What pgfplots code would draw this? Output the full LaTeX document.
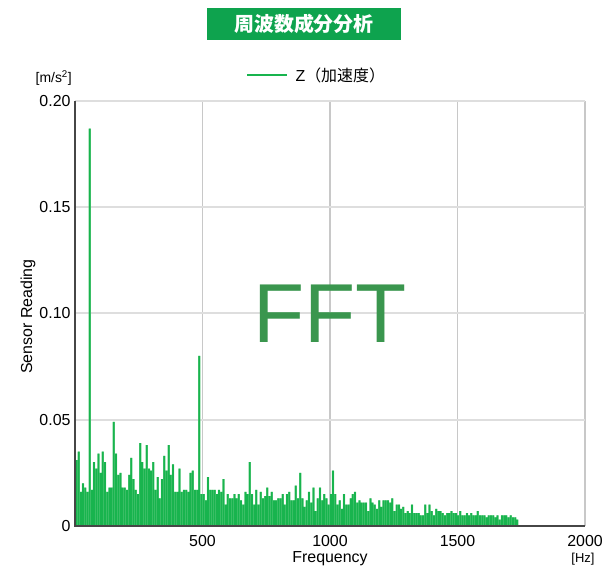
\documentclass[border=0pt]{standalone}
\usepackage{pgfplots}
\pgfplotsset{compat=1.18}
\usepackage{pgfplotstable}
\usepackage{fontspec}
\setmainfont{Liberation Sans}
\newfontfamily\cjk{Noto Sans CJK JP}
\definecolor{bargreen}{RGB}{24,180,78}
\definecolor{barlight}{RGB}{120,210,145}
\definecolor{titlegreen}{RGB}{14,163,78}
\definecolor{fftgreen}{RGB}{58,150,78}
\definecolor{gridh}{RGB}{222,222,222}
\definecolor{gridv}{RGB}{200,200,200}
\definecolor{axisdark}{RGB}{70,70,70}
\pgfplotstableread{
x y
6 .031
14.6 .035
23.2 .016
31.8 .020
40.4 .018
49 .016
57.6 .187
66.2 .017
74.8 .030
83.4 .027
92 .034
100.6 .025
109.2 .035
117.8 .030
126.4 .016
135 .018
143.6 .018
152.2 .049
160.8 .034
169.4 .024
178 .025
186.6 .018
195.2 .018
203.8 .017
212.4 .024
221 .032
229.6 .022
238.2 .017
246.8 .015
255.4 .039
264 .030
272.6 .027
281.2 .038
289.8 .027
298.4 .026
307 .030
315.6 .017
324.2 .023
332.8 .013
341.4 .022
350 .033
358.6 .026
367.2 .038
375.8 .024
384.4 .029
393 .016
401.6 .016
410.2 .027
418.8 .016
427.4 .017
436 .017
444.6 .016
453.2 .025
461.8 .026
470.4 .017
479 .017
487.6 .080
496.2 .015
504.8 .015
513.4 .012
522 .023
530.6 .017
539.2 .017
547.8 .017
556.4 .015
565 .017
573.6 .016
582.2 .022
590.8 .010
599.4 .015
608 .013
616.6 .013
625.2 .015
633.8 .013
642.4 .015
651 .012
659.6 .010
668.2 .016
676.8 .015
685.4 .030
694 .015
702.6 .010
711.2 .017
719.8 .010
728.4 .016
737 .013
745.6 .014
754.2 .018
762.8 .014
771.4 .016
780 .012
788.6 .012
797.2 .013
805.8 .013
814.4 .015
823 .010
831.6 .015
840.2 .016
848.8 .012
857.4 .012
866 .019
874.6 .013
883.2 .025
891.8 .013
900.4 .009
909 .012
917.6 .016
926.2 .011
934.8 .018
943.4 .007
952 .013
960.6 .018
969.2 .012
977.8 .015
986.4 .013
995 .010
1003.6 .015
1012.2 .026
1020.8 .015
1029.4 .010
1038 .012
1046.6 .008
1055.2 .015
1063.8 .010
1072.4 .010
1081 .013
1089.6 .015
1098.2 .016
1106.8 .011
1115.4 .012
1124 .011
1132.6 .011
1141.2 .011
1149.8 .007
1158.4 .013
1167 .011
1175.6 .010
1184.2 .008
1192.8 .012
1201.4 .009
1210 .012
1218.6 .012
1227.2 .012
1235.8 .011
1244.4 .013
1253 .007
1261.6 .010
1270.2 .010
1278.8 .008
1287.4 .009
1296 .006
1304.6 .007
1313.2 .006
1321.8 .010
1330.4 .006
1339 .006
1347.6 .006
1356.2 .005
1364.8 .005
1373.4 .010
1382 .006
1390.6 .010
1399.2 .007
1407.8 .005
1416.4 .008
1425 .007
1433.6 .007
1442.2 .006
1450.8 .005
1459.4 .006
1468 .006
1476.6 .007
1485.2 .006
1493.8 .006
1502.4 .005
1511 .007
1519.6 .005
1528.2 .005
1536.8 .006
1545.4 .005
1554 .006
1562.6 .005
1571.2 .005
1579.8 .007
1588.4 .005
1597 .005
1605.6 .005
1614.2 .004
1622.8 .005
1631.4 .005
1640 .005
1648.6 .004
1657.2 .005
1665.8 .003
1674.4 .005
1683 .005
1691.6 .005
1700.2 .004
1708.8 .005
1717.4 .004
1726 .004
1734.6 .003
}\fftdata
\begin{document}
\begin{tikzpicture}
\useasboundingbox (0,0) rectangle (608bp,569bp);
\begin{axis}[
  at={(75bp,43bp)}, anchor=south west,
  scale only axis, width=510bp, height=425bp,
  xmin=0, xmax=2000, ymin=0, ymax=0.2,
  clip=false,
  axis line style={draw=none},
  xtick={0,500,1000,1500,2000},
  xticklabels={,500,1000,1500,2000},
  ytick={0,0.05,0.1,0.15,0.2},
  yticklabels={0,0.05,0.10,0.15,0.20},
  major tick length=0pt,
  tick label style={font=\fontsize{16}{16}\selectfont},
  /pgf/number format/assume math mode=true,
  xmajorgrids, ymajorgrids,
  x grid style={draw=gridv, line width=1.3bp},
  y grid style={draw=gridh, line width=2bp},
  xticklabel style={yshift=-6bp},
  yticklabel style={xshift=-1bp},
  legend style={draw=none, fill=none, at={(axis description cs:0.4735,1.061)}, anchor=center,
    font=\fontsize{16}{16}\selectfont, inner sep=0pt},
]
\addlegendimage{legend image code/.code={\draw[bargreen, line width=2.5bp] (0bp,0bp) -- (40bp,0bp);}}
\addlegendentry{\hspace{5bp}Z\cjk（加速度）}
\addplot[ybar, bar width=2.25bp, fill=barlight, draw=none] table[x=x, y=y] {\fftdata};
\addplot[ybar, bar width=1.75bp, fill=bargreen, draw=none] table[x=x, y=y] {\fftdata};
\draw[axisdark, line width=1.8bp] (rel axis cs:0,1) -- (rel axis cs:0,0) -- (rel axis cs:1,0);
\node[font=\fontsize{84}{84}\selectfont, text=fftgreen] at (axis cs:1000,0.1) {FFT};
\node[fill=titlegreen, minimum width=194bp, minimum height=32bp, inner sep=0pt, text=white,
  font=\cjk\bfseries\fontsize{20}{20}\selectfont] at (rel axis cs:0,1) [xshift=229bp, yshift=77bp] {周波数成分分析};
\node[anchor=east, inner sep=0pt, font=\fontsize{14}{14}\selectfont] at (rel axis cs:0,1) [xshift=-3bp, yshift=23bp] {[m/s\textsuperscript{2}]};
\node[rotate=90, font=\fontsize{16}{16}\selectfont] at (rel axis cs:0,0.5) [yshift=47bp, xshift=-3bp] {Sensor Reading};
\node[font=\fontsize{16}{16}\selectfont] at (rel axis cs:0.5,0) [yshift=-33bp] {Frequency};
\node[font=\fontsize{13}{13}\selectfont] at (rel axis cs:1,0) [xshift=-2bp, yshift=-33bp] {[Hz]};
\end{axis}
\end{tikzpicture}
\end{document}
